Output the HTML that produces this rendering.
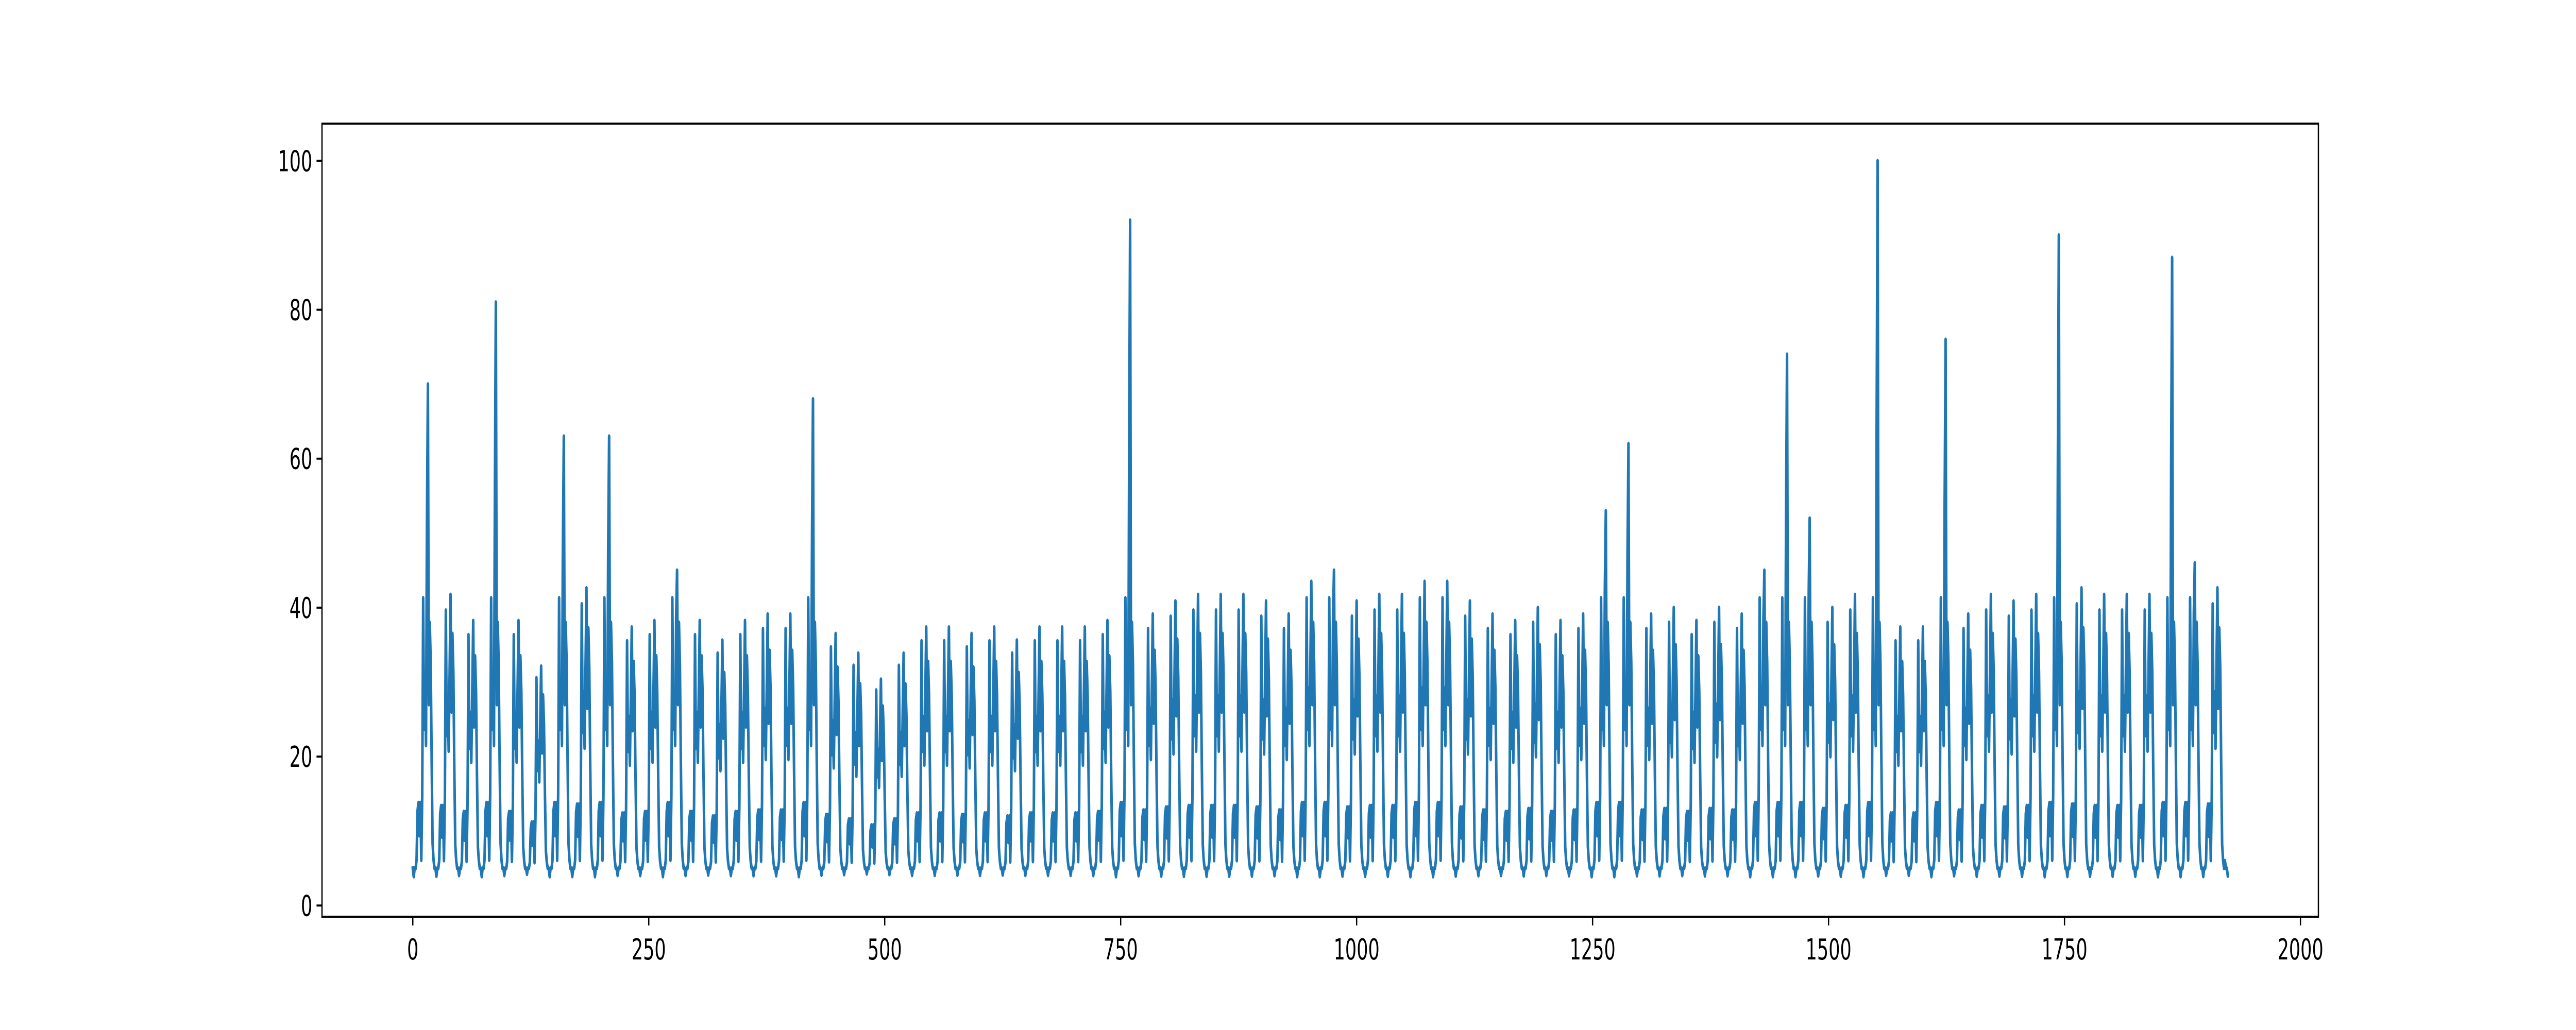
<!DOCTYPE html>
<html><head><meta charset="utf-8"><style>
html,body{margin:0;padding:0;background:#fff;width:100%;height:100%;overflow:hidden;}
svg{display:block;width:100vw;height:100vh;}
text{font-family:"DejaVu Sans","Liberation Sans",sans-serif;font-size:56px;fill:#000;}
</style></head><body>
<svg id="chart" viewBox="0 0 8000 2000" preserveAspectRatio="none" xmlns="http://www.w3.org/2000/svg">
<rect x="1000" y="240" width="6200" height="1540" fill="#fff"/>
<g id="ticks"></g>
<path id="series" fill="none" stroke="#1f77b4" stroke-width="8" stroke-linejoin="round" stroke-linecap="square"/>
<rect x="1000" y="240" width="6200" height="1540" fill="none" stroke="#000" stroke-width="4"/>
</svg>
<script>
const dayPeaks = [70,42,38,81,38,31,63,43,63,37,38,45,38,35,38,39,39,68,36,33,29,33,37,37,36,37,35,37,37,37,38,92,39,41,42,42,42,41,39,44,45,41,42,42,44,44,41,39,38,40,38,39,53,62,39,40,38,40,39,45,74,52,40,42,100,37,37,76,39,42,41,42,90,43,42,42,42,87,46,43];
const hourShape = [5,4,5,5,6,12,13,9,13,6,14,38,22,27,20,30,40,25,35,30,18,8,6,5];
const tailValues = [6,5,5,4];
const xTicks = [0,250,500,750,1000,1250,1500,1750,2000];
const yTicks = [0,20,40,60,80,100];

const X0=1000,X1=7200,Y0=240,Y1=1780;
const xMin=-96.2,xMax=2019,yMin=-1.5,yMax=105;
function sx(v){return X0+(v-xMin)/(xMax-xMin)*(X1-X0);}
function sy(v){return Y1-(v-yMin)/(yMax-yMin)*(Y1-Y0);}

const values=[];
dayPeaks.forEach(function(p){
  const s=Math.min(p,44)/40;
  hourShape.forEach(function(h,i){
    let v=5+(h-5)*s;
    if(p>44 && i===16) v=p;
    if(p>44 && i===15) v=(p+v)/2;
    values.push(v);
  });
});
tailValues.forEach(function(v){values.push(v);});

let d='';
values.forEach(function(v,i){d+=(i?'L':'M')+sx(i).toFixed(1)+','+sy(v).toFixed(1);});
document.getElementById('series').setAttribute('d',d);

const NS='http://www.w3.org/2000/svg';
const g=document.getElementById('ticks');
xTicks.forEach(function(t){
  const x=sx(t);
  const l=document.createElementNS(NS,'line');
  
  
  l.setAttribute('x1',x);l.setAttribute('x2',x);l.setAttribute('y1',Y1);l.setAttribute('y2',Y1+17);
  l.setAttribute('stroke','#000');l.setAttribute('stroke-width','4');
  g.appendChild(l);
  const tx=document.createElementNS(NS,'text');
  
  
  tx.setAttribute('x',x);tx.setAttribute('y',Y1+83);tx.setAttribute('text-anchor','middle');
  tx.textContent=t;
  g.appendChild(tx);
});
yTicks.forEach(function(t){
  const y=sy(t);
  const l=document.createElementNS(NS,'line');
  
  
  l.setAttribute('x1',X0-17);l.setAttribute('x2',X0);l.setAttribute('y1',y);l.setAttribute('y2',y);
  l.setAttribute('stroke','#000');l.setAttribute('stroke-width','4');
  g.appendChild(l);
  const tx=document.createElementNS(NS,'text');
  
  
  tx.setAttribute('x',X0-30);tx.setAttribute('y',y+20);tx.setAttribute('text-anchor','end');
  tx.textContent=t;
  g.appendChild(tx);
});
</script>
</body></html>
